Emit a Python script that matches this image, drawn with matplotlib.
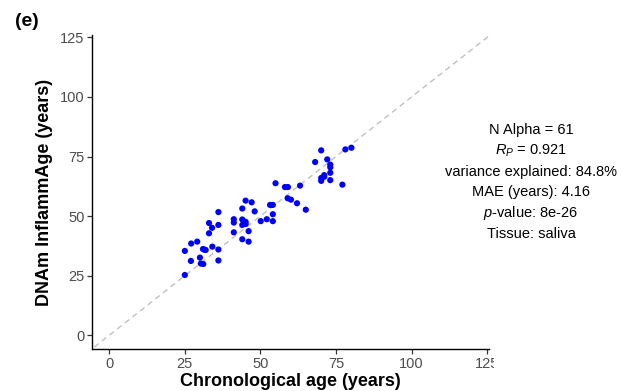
import numpy as np
import matplotlib.pyplot as plt
from matplotlib.transforms import Bbox, TransformedBbox

plt.rcParams['font.family'] = ['Liberation Sans', 'DejaVu Sans']
plt.rcParams['mathtext.fontset'] = 'custom'
plt.rcParams['mathtext.it'] = 'Liberation Sans:italic'
plt.rcParams['mathtext.rm'] = 'Liberation Sans'

# chronological age vs DNAm InflammAge, saliva samples
chron_age = [25.0, 25.0, 27.0, 27.1, 29.1, 30.0, 30.3, 31.1, 31.0, 31.9,
             31.5, 34.1, 36.1, 36.1, 33.0, 33.0, 34.0, 36.1, 36.1, 41.2,
             41.2, 41.2, 44.0, 45.1, 47.1, 44.0, 44.0, 45.1, 45.1, 46.1,
             44.0, 46.1, 48.1, 50.1, 52.1, 54.1, 54.1, 53.2, 54.1, 55.0,
             58.1, 59.1, 59.0, 60.1, 62.1, 63.1, 65.0, 68.1, 70.1, 72.1,
             73.1, 73.1, 71.1, 71.1, 70.1, 70.1, 73.1, 73.1, 77.1, 78.1,
             80.1]
inflamm_age = [25.3, 35.4, 31.2, 38.5, 39.3, 32.6, 30.1, 29.9, 36.2, 35.8,
               35.9, 37.2, 36.0, 31.4, 42.8, 47.1, 45.1, 46.3, 51.7, 43.2,
               47.3, 48.7, 53.2, 56.5, 55.8, 48.6, 46.3, 46.7, 47.6, 43.7,
               40.3, 39.3, 52.0, 47.9, 48.7, 47.9, 50.8, 54.7, 54.7, 63.8,
               62.2, 62.2, 57.5, 56.9, 55.4, 62.8, 52.7, 72.7, 77.6, 73.8,
               71.6, 70.5, 67.2, 66.5, 66.0, 64.8, 68.2, 65.1, 63.2, 78.0,
               78.7]

ticks = [0, 25, 50, 75, 100, 125]
stats_lines = ["N Alpha = 61",
               r"$R_P$ = 0.921",
               "variance explained: 84.8%",
               "MAE (years): 4.16",
               r"$p$-value: 8e-26",
               "Tissue: saliva"]

fig = plt.figure(figsize=(6.22, 3.91), dpi=100)
ax = fig.add_axes([92/622, 1 - 349/391, (489 - 92)/622, (349 - 35)/391])

# identity line
ax.plot([-10, 130], [-10, 130], ls=(0, (4, 3)), color="#c0c0c0", lw=1.0, zorder=1)
ax.scatter(chron_age, inflamm_age, s=20, color="#0000ff", edgecolors="none", zorder=3)

ax.set_xlim(-5.7, 125.6)
ax.set_ylim(-5.75, 126.0)
ax.set_xticks(ticks)
ax.set_yticks(ticks)

for side in ["top", "right"]:
    ax.spines[side].set_visible(False)
for side in ["left", "bottom"]:
    ax.spines[side].set_linewidth(1.0)
    ax.spines[side].set_color("black")
ax.tick_params(direction="out", length=3.5, width=0.9, color="#333333",
               labelsize=10.5, labelcolor="#4d4d4d", pad=2)

ax.set_xlabel("Chronological age (years)", fontsize=13, fontweight="bold", labelpad=2)
ax.set_ylabel("DNAm InflammAge (years)", fontsize=13, fontweight="bold", labelpad=5)

# the panel is cut off just past the right end of the x axis
clip = TransformedBbox(Bbox([[0, 0], [494/622, 1]]), fig.transFigure)
for lab in ax.get_xticklabels():
    lab.set_clip_on(True)
    lab.set_clip_box(clip)

fig.text(0.024, 0.945, "(e)", fontsize=14, fontweight="bold", va="center")

y0 = 1 - 130/391
for i, line in enumerate(stats_lines):
    fig.text(531/622, y0 - i*20.8/391, line, fontsize=10.5, ha="center", va="center")

fig.savefig("out.png", dpi=100)
